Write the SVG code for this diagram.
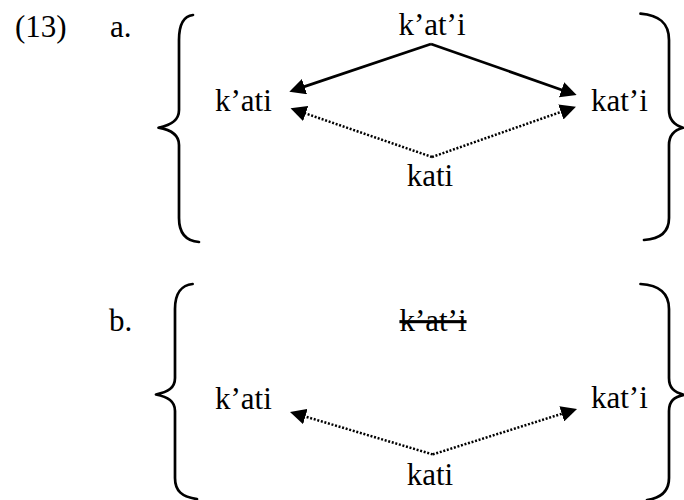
<svg xmlns="http://www.w3.org/2000/svg" width="684" height="500" viewBox="0 0 684 500">
  <defs>
    <style>
      text { font-family: 'Liberation Serif', 'Times New Roman', serif; font-size: 31px; fill: #000; }
      .mid { text-anchor: middle; }
      .brace { fill: none; stroke: #000; stroke-width: 2.7; stroke-linecap: round; stroke-linejoin: round; }
      .solid { fill: none; stroke: #000; stroke-width: 2.7; }
      .dotted { fill: none; stroke: #000; stroke-width: 2.5; stroke-dasharray: 2 1.7; }
      .strike { text-decoration: line-through; }
    </style>
    <marker id="arrow" markerUnits="userSpaceOnUse" viewBox="0 0 16 16" markerWidth="16" markerHeight="16" refX="8" refY="8" orient="auto">
      <path d="M0,0 L16,8 L0,16 Z" fill="#000"/>
    </marker>
  </defs>
  <rect width="684" height="500" fill="#fff"/>

  <!-- labels -->
  <text id="ex-num" x="15" y="37">(13)</text>
  <text id="label-a" x="110" y="37">a.</text>
  <text id="label-b" x="109" y="331">b.</text>

  <!-- braces -->
  <g id="braces">
    <path class="brace" d="M193,15 C184,16 179,24 179,40 L179,110 C179,120 172,125 158.5,127.7 C172,130 179,135 179,145 L179,218 C179,234 186,241 199,242"/>
    <path class="brace" d="M640.5,13.6 C658,15 669,22 669,40 L669,110 C669,120 674,125 683,127.7 C674,130 669,135 669,145 L669,218 C669,232 660,239 644,240"/>
    <path class="brace" d="M192.6,284 C182,285 175,293 175,309 L175,378 C175,388 168,392 156,394.5 C168,397 175,401 175,411 L175,478 C175,491 182,497 197,499"/>
    <path class="brace" d="M640.5,284 C658,285 669,292 669,309 L669,378 C669,388 674,392 684,394.8 C674,397 669,401 669,411 L669,478 C669,491 661,498 647,500"/>
  </g>

  <!-- nodes, example a -->
  <g id="a-top"><text class="mid" x="432" y="35">k’at’i</text></g>
  <g id="a-left"><text x="215" y="111">k’ati</text></g>
  <g id="a-right"><text x="591" y="111">kat’i</text></g>
  <g id="a-bottom"><text class="mid" x="430" y="186">kati</text></g>

  <!-- nodes, example b -->
  <g id="b-top"><text class="mid strike" x="433" y="331">k’at’i</text></g>
  <g id="b-left"><text x="215" y="409">k’ati</text></g>
  <g id="b-right"><text x="591" y="408">kat’i</text></g>
  <g id="b-bottom"><text class="mid" x="430" y="485">kati</text></g>

  <!-- connectors -->
  <g id="connectors">
    <path class="solid" d="M431,44 L296.9,89.1" marker-end="url(#arrow)"/>
    <path class="solid" d="M431,44 L569.1,92.4" marker-end="url(#arrow)"/>
    <path class="dotted" d="M432,157 L298.1,110.9" marker-end="url(#arrow)"/>
    <path class="dotted" d="M432,157 L568.4,109.3" marker-end="url(#arrow)"/>
    <path class="dotted" d="M432.7,454.4 L297.7,414.3" marker-end="url(#arrow)"/>
    <path class="dotted" d="M432.7,454.4 L569.4,411.4" marker-end="url(#arrow)"/>
  </g>
</svg>
